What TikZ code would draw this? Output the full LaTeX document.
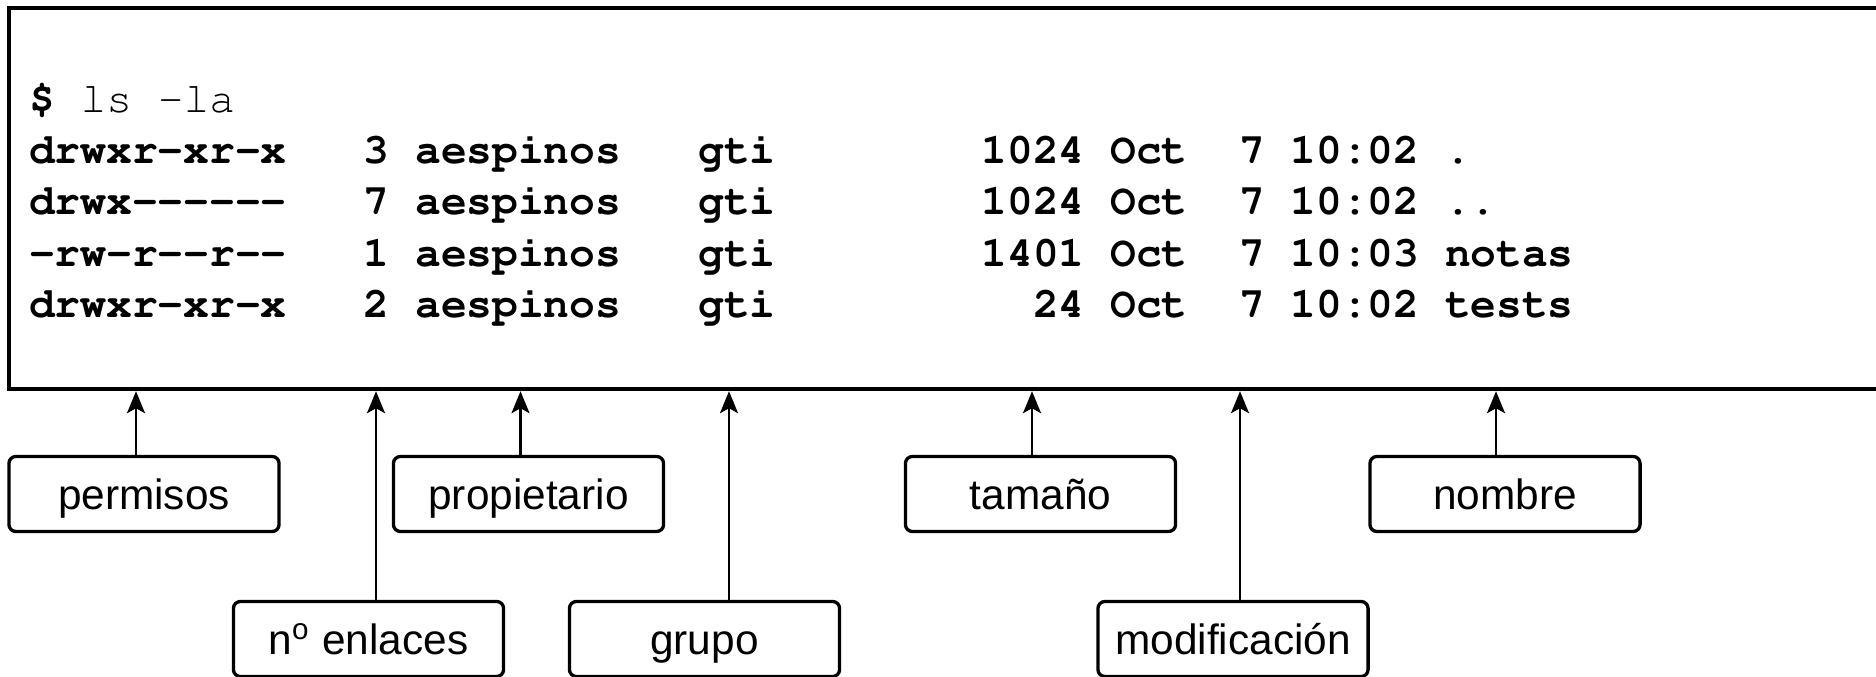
\documentclass[tikz,border=0pt]{standalone}
\usepackage[T1]{fontenc}
\usepackage{fontspec}
\setmainfont{Liberation Sans}
\usetikzlibrary{arrows.meta}
% bold Courier for the terminal listing
\newcommand{\termfont}{\fontencoding{T1}\fontfamily{pcr}\fontseries{b}\fontsize{12.2pt}{14pt}\selectfont}
\begin{document}
\begin{tikzpicture}[x=0.01cm,y=-0.01cm,
  field/.style={draw, line width=0.033cm, rounded corners=0.07cm,
    minimum width=2.70cm, minimum height=0.75cm, inner sep=0pt,
    font=\fontsize{12.05pt}{14pt}\selectfont,
    text height=0.312cm, text depth=0pt},
  row/.style={anchor=base west, inner sep=0pt, font=\termfont},
  pointer/.style={-{Stealth[length=0.22cm,width=0.18cm,inset=0.05cm]},
    line width=0.022cm}
]
\useasboundingbox (0,0) rectangle (1876,677);
\clip (0,0) rectangle (1876,677);

% terminal window (runs off to the right)
\node (term) [draw, line width=0.04cm, anchor=north west,
  minimum width=19cm, minimum height=3.805cm, inner sep=0pt] at (7,6.5) {};

% command and its listing
\node[row] (prompt) at (28.5,112.4) {\$\fontseries{m}\selectfont~ls~-la};
\node[row] (r1) at (28.5,163.9) {drwxr-xr-x~~~3~aespinos~~~gti~~~~~~~~1024~Oct~~7~10:02~.};
\node[row] (r2) at (28.5,214.9) {drwx-{}-{}-{}-{}-{}-~~~7~aespinos~~~gti~~~~~~~~1024~Oct~~7~10:02~..};
\node[row] (r3) at (28.5,266.4) {-rw-r-{}-r-{}-~~~1~aespinos~~~gti~~~~~~~~1401~Oct~~7~10:03~notas};
\node[row] (r4) at (28.5,317.4) {drwxr-xr-x~~~2~aespinos~~~gti~~~~~~~~~~24~Oct~~7~10:02~tests};

% field labels
\node[field] (perm) at (144,494) {permisos};
\node[field] (prop) at (528.5,494) {propietario};
\node[field] (tam)  at (1040.5,494) {tamaño};
\node[field] (nom)  at (1505,494) {nombre};
\node[field] (enl)  at (368.5,639) {n\textsuperscript{o} enlaces};
\node[field] (grp)  at (704.5,639) {grupo};
\node[field] (mod)  at (1233,639) {modificación};

% columns the labels point at
\coordinate (cPerm) at (136,0);
\coordinate (cEnl)  at (376,0);
\coordinate (cProp) at (520.5,0);
\coordinate (cGrp)  at (729,0);
\coordinate (cTam)  at (1032,0);
\coordinate (cMod)  at (1240,0);
\coordinate (cNom)  at (1496,0);

\draw[pointer] (cPerm |- perm.north) -- (cPerm |- term.south);
\draw[pointer] (cEnl |- enl.north) -- (cEnl |- term.south);
\draw[pointer] (cProp |- prop.north) -- (cProp |- term.south);
\draw[pointer] (cGrp |- grp.north) -- (cGrp |- term.south);
\draw[pointer] (cTam |- tam.north) -- (cTam |- term.south);
\draw[pointer] (cMod |- mod.north) -- (cMod |- term.south);
\draw[pointer] (cNom |- nom.north) -- (cNom |- term.south);
\end{tikzpicture}
\end{document}
